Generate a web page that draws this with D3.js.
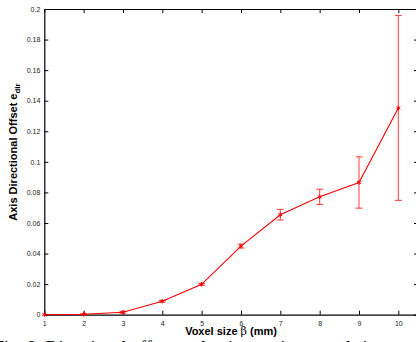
<!DOCTYPE html>
<html>
<head>
<meta charset="utf-8">
<script src="https://cdn.jsdelivr.net/npm/d3@7"></script>
<style>
  body { margin: 0; background: #fff; overflow: hidden; }
  svg { display: block; font-family: "Liberation Sans", Arial, sans-serif; }
</style>
</head>
<body>
<div class="chart"></div>
<script>
const voxelSize = [1, 2, 3, 4, 5, 6, 7, 8, 9, 10];
const offsetMean = [0, 0.0003, 0.0016, 0.0088, 0.0199, 0.0449, 0.0654, 0.0771, 0.0865, 0.1353];
const offsetErr = [0, 0.0003, 0.0006, 0.0006, 0.0006, 0.0013, 0.0035, 0.005, 0.0168, 0.0605];
const xTicks = [1, 2, 3, 4, 5, 6, 7, 8, 9, 10];
const yTicks = [0, 0.02, 0.04, 0.06, 0.08, 0.1, 0.12, 0.14, 0.16, 0.18, 0.2];

const W = 416, H = 342;
const margin = { top: 9, right: -2, bottom: 27.3, left: 44.3 },
  width = W - margin.left - margin.right,
  height = H - margin.top - margin.bottom;

const svg = d3.select(".chart")
  .append("svg")
  .attr("width", W)
  .attr("height", H);

const g = svg.append("g")
  .attr("transform", `translate(${margin.left},${margin.top})`);

const x = d3.scaleLinear().domain([1, 10.5]).range([0, width]);
const y = d3.scaleLinear().domain([0, 0.2]).range([height, 0]);

const fmt = d => d === 0 ? "0" : String(+d.toFixed(2));

// axes with inward ticks, like the matlab box
const axisStyle = sel => {
  sel.select(".domain").attr("stroke", "#000").attr("stroke-width", 1.2);
  sel.selectAll(".tick line").attr("stroke", "#000");
  sel.selectAll(".tick text").attr("font-size", 7).attr("fill", "#222")
    .attr("font-family", "Liberation Sans, Arial, sans-serif");
};

g.append("g")
  .attr("transform", `translate(0,${height})`)
  .call(d3.axisBottom(x).tickValues(xTicks).tickSizeInner(-4).tickSizeOuter(0).tickPadding(6).tickFormat(d3.format("d")))
  .call(axisStyle);

g.append("g")
  .call(d3.axisTop(x).tickValues(xTicks).tickSizeInner(-4).tickSizeOuter(0).tickFormat(""))
  .call(axisStyle);

g.append("g")
  .call(d3.axisLeft(y).tickValues(yTicks).tickSizeInner(-4).tickSizeOuter(0).tickPadding(4).tickFormat(fmt))
  .call(axisStyle);

g.append("g")
  .attr("transform", `translate(${width},0)`)
  .call(d3.axisRight(y).tickValues(yTicks).tickSizeInner(-4).tickSizeOuter(0).tickFormat(""))
  .call(axisStyle);

const data = voxelSize.map((v, i) => ({ v, m: offsetMean[i], e: offsetErr[i] }));

// error bars
const cap = 3.5;
const eb = g.append("g")
  .attr("stroke", "#ff2020")
  .attr("stroke-opacity", 0.8)
  .attr("stroke-width", 1.1)
  .attr("fill", "none");

data.filter(d => d.e > 0).forEach(d => {
  const cx = x(d.v);
  eb.append("line").attr("x1", cx).attr("x2", cx).attr("y1", y(d.m - d.e)).attr("y2", y(d.m + d.e));
  eb.append("line").attr("x1", cx - cap).attr("x2", cx + cap).attr("y1", y(d.m + d.e)).attr("y2", y(d.m + d.e));
  eb.append("line").attr("x1", cx - cap).attr("x2", cx + cap).attr("y1", y(d.m - d.e)).attr("y2", y(d.m - d.e));
});

// mean line
const line = d3.line()
  .x(d => x(d.v))
  .y(d => y(d.m));

g.append("path")
  .datum(data)
  .attr("fill", "none")
  .attr("stroke", "#ff0000")
  .attr("stroke-width", 1.1)
  .attr("d", line);

// star markers
g.selectAll(".mark")
  .data(data)
  .join("path")
  .attr("class", "mark")
  .attr("transform", d => `translate(${x(d.v)},${y(d.m)})`)
  .attr("d", d3.symbol(d3.symbolAsterisk, 14))
  .attr("fill", "none")
  .attr("stroke", "#ff0000")
  .attr("stroke-width", 1);

// axis titles
svg.append("text")
  .attr("x", 231)
  .attr("y", 335)
  .attr("text-anchor", "middle")
  .attr("font-size", 11)
  .attr("font-weight", "bold")
  .html('Voxel size <tspan font-weight="normal" font-family="DejaVu Serif, serif">β</tspan> (mm)');

const yTitle = svg.append("text")
  .attr("transform", "translate(17,152) rotate(-90)")
  .attr("text-anchor", "middle")
  .attr("font-size", 11)
  .attr("font-weight", "bold");
yTitle.append("tspan").text("Axis Directional Offset e");
yTitle.append("tspan").attr("font-size", 8).attr("dy", 3).text("dir");

// caption cut off at the bottom of the frame
svg.append("text")
  .attr("x", -6)
  .attr("y", 354)
  .attr("font-family", "Liberation Serif, Times New Roman, serif")
  .attr("font-size", 18)
  .text("Fig. 8: Directional offset evaluation against voxel size");
</script>
</body>
</html>
